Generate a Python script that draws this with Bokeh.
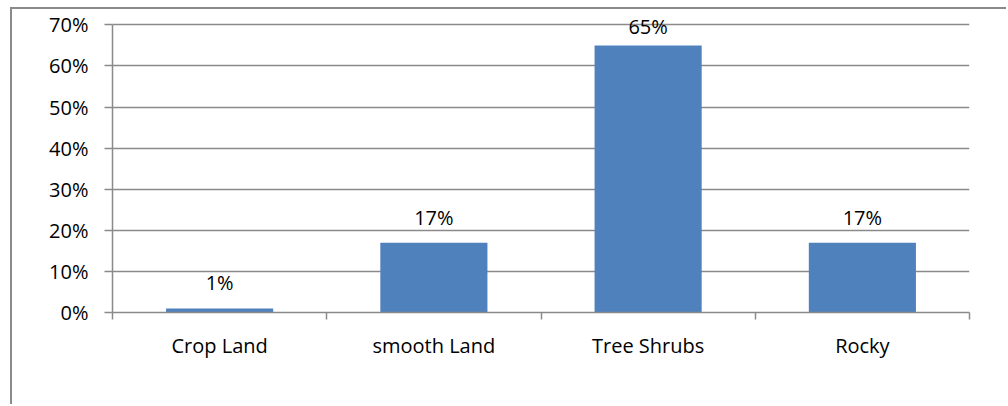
from bokeh.plotting import figure
from bokeh.models import (ColumnDataSource, FixedTicker, NumeralTickFormatter,
                          Range1d, LabelSet)
from bokeh.core.properties import value
from bokeh.embed import file_html
from bokeh.resources import INLINE

# Land cover shares
categories = ["Crop Land", "smooth Land", "Tree Shrubs", "Rocky"]
shares = [0.01, 0.17, 0.65, 0.17]
y_ticks = [0.0, 0.1, 0.2, 0.3, 0.4, 0.5, 0.6, 0.7]

Y_MAX = 0.7
positions = list(range(len(categories)))
labels = [f"{round(v * 100)}%" for v in shares]
# labels of bars that reach close to the top of the scale are tucked in closer
offsets = [12 if v < Y_MAX - 0.08 else 5 for v in shares]

source = ColumnDataSource(dict(x=positions, top=shares, label=labels, off=offsets))

FONT = "Open Sans"
GREY = "#8a8a8a"

# the figure sits inside a frame drawn along its top and left edges
OFF_X, OFF_Y = 12, 9
p = figure(width=1008 - OFF_X, height=406 - OFF_Y,
           output_backend="svg", toolbar_location=None,
           x_range=Range1d(-0.5, len(categories) - 0.5),
           y_range=Range1d(0, Y_MAX + 0.03))
p.styles = {"position": "absolute", "left": f"{OFF_X - 2}px", "top": f"{OFF_Y - 2}px",
            "border-left": f"2px solid {GREY}", "border-top": f"2px solid {GREY}"}
p.min_border_left = 112 - OFF_X
p.min_border_right = 39
p.min_border_top = 3
p.min_border_bottom = 94
p.outline_line_color = None
p.background_fill_color = "white"
p.border_fill_color = "white"

p.vbar(x="x", top="top", width=0.5, source=source,
       fill_color="#4F81BD", line_color=None)

p.add_layout(LabelSet(x="x", y="top", text="label", source=source,
                      text_align="center", text_baseline="bottom", y_offset="off",
                      text_font=value(FONT), text_font_size="20px", text_color="black"))

# y axis (the value scale stops at 70%)
p.yaxis.ticker = FixedTicker(ticks=y_ticks)
p.yaxis.bounds = (0, Y_MAX)
p.yaxis.formatter = NumeralTickFormatter(format="0%")
p.yaxis.axis_line_color = GREY
p.yaxis.axis_line_width = 1.5
p.yaxis.major_tick_line_color = GREY
p.yaxis.major_tick_line_width = 1.5
p.yaxis.major_tick_in = 0
p.yaxis.major_tick_out = 8
p.yaxis.minor_tick_line_color = None
p.yaxis.major_label_standoff = 16
p.yaxis.major_label_text_font = FONT
p.yaxis.major_label_text_font_size = "20px"
p.yaxis.major_label_text_color = "black"

# x axis: labels at bar centres, tick marks on category boundaries
p.xaxis.ticker = FixedTicker(ticks=positions,
                             minor_ticks=[i - 0.5 for i in range(len(categories) + 1)])
p.xaxis.major_label_overrides = {i: c for i, c in zip(positions, categories)}
p.xaxis.axis_line_color = GREY
p.xaxis.axis_line_width = 1.5
p.xaxis.major_tick_line_color = None
p.xaxis.minor_tick_line_color = GREY
p.xaxis.minor_tick_line_width = 1.5
p.xaxis.minor_tick_in = 0
p.xaxis.minor_tick_out = 7
p.xaxis.major_label_standoff = 12
p.xaxis.major_label_text_font = FONT
p.xaxis.major_label_text_font_size = "20px"
p.xaxis.major_label_text_color = "black"

p.xgrid.grid_line_color = None
p.ygrid.ticker = FixedTicker(ticks=y_ticks)
p.ygrid.grid_line_color = GREY
p.ygrid.grid_line_width = 1.5

open("out.html", "w").write(file_html(p, INLINE))
